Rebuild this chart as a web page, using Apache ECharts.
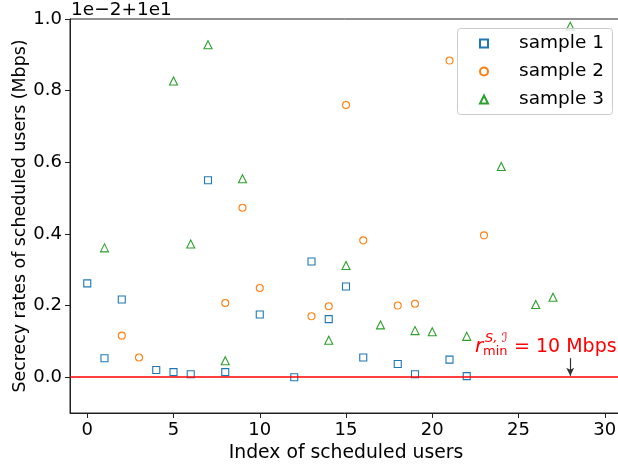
<!DOCTYPE html>
<html>
<head>
<meta charset="utf-8">
<script src="https://cdn.jsdelivr.net/npm/echarts@6/dist/echarts.min.js"></script>
<style>
html,body{margin:0;padding:0;background:#fff;}
#chart{width:618px;height:466px;}
</style>
</head>
<body>
<div id="chart"></div>
<script>
// Values shown relative to offset 1e-2 + 1e1 (i.e. actual = 10 + v*0.01 Mbps)
const sample1X = [0,1,2,4,5,6,7,8,10,12,13,14,15,16,18,19,21,22];
const sample1Y = [0.262,0.053,0.217,0.020,0.014,0.008,0.550,0.014,0.175,0.000,0.323,0.162,0.253,0.055,0.037,0.008,0.049,0.003];
const sample2X = [2,3,8,9,10,13,14,15,16,18,19,21,23];
const sample2Y = [0.116,0.055,0.207,0.473,0.249,0.170,0.198,0.760,0.382,0.200,0.205,0.884,0.396];
const sample3X = [1,5,6,7,8,9,14,15,17,19,20,22,24,26,27,28];
const sample3Y = [0.361,0.827,0.372,0.928,0.046,0.554,0.103,0.312,0.146,0.130,0.127,0.114,0.588,0.203,0.223,0.980];
const xTicks = [0,5,10,15,20,25,30];
const yTicks = [0,0.2,0.4,0.6,0.8,1.0];
const seriesNames = ['sample 1','sample 2','sample 3'];
const thresholdY = 0;
const arrowX = 28;

const FONT = 'DejaVu Sans';
const colors = ['#1f77b4','#ff7f0e','#2ca02c'];
const symbols = ['rect','circle','triangle'];
const zip = (xs, ys) => xs.map((x, i) => [x, ys[i]]);
const datasets = [zip(sample1X, sample1Y), zip(sample2X, sample2Y), zip(sample3X, sample3Y)];

const chart = echarts.init(document.getElementById('chart'), null, {renderer: 'canvas'});

const series = datasets.map((d, i) => ({
  name: seriesNames[i],
  type: 'scatter',
  data: d,
  symbol: symbols[i],
  symbolSize: i === 2 ? 8 : 7,
  symbolKeepAspect: true,
  z: 2,
  itemStyle: {color: 'rgba(255,255,255,0)', borderColor: colors[i], borderWidth: 1.1, opacity: 1},
  emphasis: {disabled: true}
}));

series[0].markLine = {
  silent: true,
  symbol: ['none','none'],
  label: {show: false},
  lineStyle: {color: '#ff0000', width: 1.5, type: 'solid'},
  data: [{yAxis: thresholdY}],
  animation: false
};
series[1].markLine = {
  silent: true,
  symbol: ['none','arrow'],
  symbolSize: [6, 8],
  label: {show: false},
  lineStyle: {color: '#333', width: 1.2, type: 'solid'},
  data: [[{coord: [arrowX, 0.053]}, {coord: [arrowX, 0.004]}]],
  animation: false
};

const option = {
  animation: false,
  backgroundColor: '#fff',
  textStyle: {fontFamily: FONT},
  grid: {left: 70, top: 19, bottom: 53, right: -4, containLabel: false, outerBoundsMode: 'none',
    show: true, borderColor: '#222', borderWidth: 1, backgroundColor: 'transparent'},
  xAxis: {
    type: 'value', min: -1, max: 31,
    name: 'Index of scheduled users', nameLocation: 'middle', nameGap: 31, nameMoveOverlap: false,
    nameTextStyle: {fontFamily: FONT, fontSize: 18.8, color: '#000'},
    axisLine: {show: true, onZero: false, lineStyle: {color: '#222', width: 1}},
    axisTick: {show: true, inside: false, length: 5, customValues: xTicks, lineStyle: {color: '#222'}},
    axisLabel: {show: true, customValues: xTicks, margin: 8, fontFamily: FONT, fontSize: 18, color: '#000'},
    splitLine: {show: false}
  },
  yAxis: {
    type: 'value', min: -0.1, max: 1.0,
    name: 'Secrecy rates of scheduled users (Mbps)', nameLocation: 'middle', nameGap: 41, nameMoveOverlap: false,
    nameTextStyle: {fontFamily: FONT, fontSize: 17.4, color: '#000'},
    axisLine: {show: true, onZero: false, lineStyle: {color: '#222', width: 1}},
    axisTick: {show: true, inside: false, length: 5, customValues: yTicks, lineStyle: {color: '#222'}},
    axisLabel: {show: true, customValues: yTicks, margin: 8, fontFamily: FONT, fontSize: 18, color: '#000',
      formatter: v => v.toFixed(1)},
    splitLine: {show: false}
  },
  legend: {
    show: true,
    orient: 'vertical',
    left: 479, top: 34,
    padding: 0,
    itemWidth: 8, itemHeight: 8, itemGap: 9,
    z: 5,
    textStyle: {fontFamily: FONT, fontSize: 18.5, color: '#000', lineHeight: 18, padding: [0, 0, 0, 26]},
    data: seriesNames,
    selectedMode: false
  },
  graphic: [
    {type: 'rect', z: 3, silent: true,
      shape: {x: 457.5, y: 28.5, width: 155, height: 86, r: 3},
      style: {fill: 'rgba(255,255,255,0.8)', stroke: '#cccccc', lineWidth: 1}},
    {type: 'text', z: 5, silent: true, x: 71, y: 1,
      style: {text: '1e\u22122+1e1', font: '18.5px "DejaVu Sans"', fill: '#000', textVerticalAlign: 'top'}},
    {type: 'text', z: 5, silent: true, x: 475, y: 347,
      style: {text: 'r', font: 'italic 20px "DejaVu Sans"', fill: '#ff0000', textVerticalAlign: 'middle'}},
    {type: 'text', z: 5, silent: true, x: 485, y: 338.5,
      style: {text: 'S, \u2110', font: 'italic 13px "DejaVu Sans"', fill: '#ff0000', textVerticalAlign: 'middle'}},
    {type: 'text', z: 5, silent: true, x: 483, y: 352,
      style: {text: 'min', font: '13px "DejaVu Sans"', fill: '#ff0000', textVerticalAlign: 'middle'}},
    {type: 'text', z: 5, silent: true, x: 514, y: 347,
      style: {text: '= 10 Mbps', font: '19px "DejaVu Sans"', fill: '#ff0000', textVerticalAlign: 'middle'}}
  ],
  series: series
};
chart.setOption(option);
</script>
</body>
</html>
